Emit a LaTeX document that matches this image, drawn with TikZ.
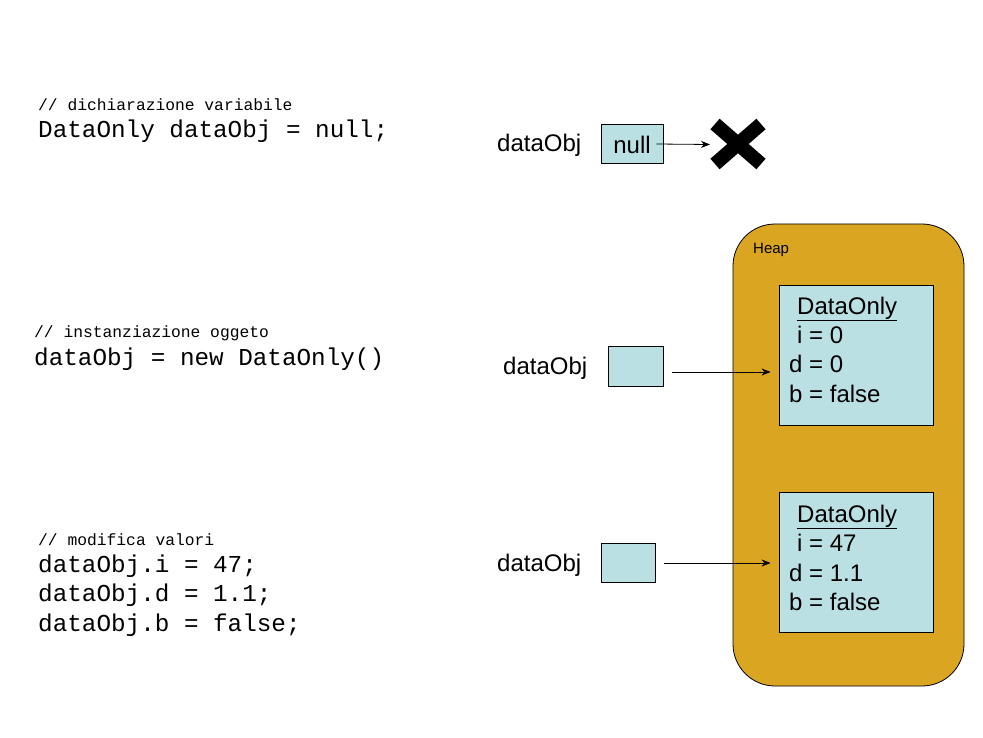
\documentclass[tikz,border=0pt]{standalone}
\usepackage{fontspec}
\setmainfont{Liberation Sans}
\newfontfamily\codefont{Liberation Mono}
\usetikzlibrary{arrows.meta,calc}
\definecolor{boxblue}{RGB}{187,224,227}
\definecolor{heapgold}{RGB}{218,165,32}
\tikzset{
  lbl/.style={anchor=west,inner sep=0pt,font=\fontsize{24}{28}\selectfont},
  code/.style={anchor=west,inner sep=0pt,font=\codefont\fontsize{24.3}{28}\selectfont},
  comment/.style={anchor=west,inner sep=0pt,font=\codefont\fontsize{16.3}{20}\selectfont},
  varbox/.style={draw=black,line width=0.8pt,fill=boxblue,inner sep=0pt},
  objbox/.style={draw=black,line width=0.8pt,fill=boxblue,inner sep=0pt,minimum width=154pt,minimum height=140pt},
  ptr/.style={line width=0.8pt,-{Stealth[length=9pt,width=7pt]}},
}
\begin{document}
\begin{tikzpicture}[x=1pt,y=-1pt]
\useasboundingbox (0,0) rectangle (983,738);
\fill[white] (0,0) rectangle (983,738);

% code
\node[comment] (c1) at (38,105) {// dichiarazione variabile};
\node[code] (l1) at (38,131) {DataOnly dataObj = null;};
\node[comment] (c2) at (34,333) {// instanziazione oggeto};
\node[code] (l2) at (34,359) {dataObj = new DataOnly()};
\node[comment] (c3) at (38,540) {// modifica valori};
\node[code] (l3a) at (38,566) {dataObj.i = 47;};
\node[code] (l3b) at (38,595) {dataObj.d = 1.1;};
\node[code] (l3c) at (38,625) {dataObj.b = false;};

% heap
\node[draw=black,line width=0.8pt,fill=heapgold,rounded corners=42pt,minimum width=231pt,minimum height=462pt,inner sep=0pt] (heap) at (848.5,455) {};
\node[anchor=west,inner sep=0pt,font=\fontsize{15}{18}\selectfont] (heaplbl) at (753,250) {Heap};

% row 1
\node[lbl] (v1) at (497,145) {dataObj};
\node[varbox,minimum width=62pt,minimum height=39pt] (b1) at (632,143.5) {};
\node[lbl] (n1) at (b1.center) [anchor=center,yshift=-1pt] {null};
\coordinate (cross) at (738,144);
\draw[line width=14pt] (715,124) -- (761,164);
\draw[line width=14pt] (761,124) -- (715,164);
\draw[ptr] ($(b1.east)+(-7,0.5)$) -- ($(cross)+(-28,0.5)$);

% row 2
\node[lbl] (v2) at (503,368) {dataObj};
\node[varbox,minimum width=55pt,minimum height=40pt] (b2) at (635.5,366) {};
\node[objbox] (o1) at (856,355) {};
\node[lbl] (o1t) at (797,309) {\underline{DataOnly}};
\node[lbl] (o1i) at (797,335) {i = 0};
\node[lbl] (o1d) at (789,364) {d = 0};
\node[lbl] (o1b) at (789,394) {b = false};
\draw[ptr] ($(b2.east)+(9,6)$) -- ($(o1.west)+(-8,17)$);

% row 3
\node[lbl] (v3) at (497,565) {dataObj};
\node[varbox,minimum width=54pt,minimum height=39pt] (b3) at (628,562.5) {};
\node[objbox] (o2) at (856,562.5) {};
\node[lbl] (o2t) at (797,517) {\underline{DataOnly}};
\node[lbl] (o2i) at (797,543) {i = 47};
\node[lbl] (o2d) at (789,573) {d = 1.1};
\node[lbl] (o2b) at (789,602) {b = false};
\draw[ptr] ($(b3.east)+(9,0.5)$) -- ($(o2.west)+(-8,0.5)$);
\end{tikzpicture}
\end{document}
